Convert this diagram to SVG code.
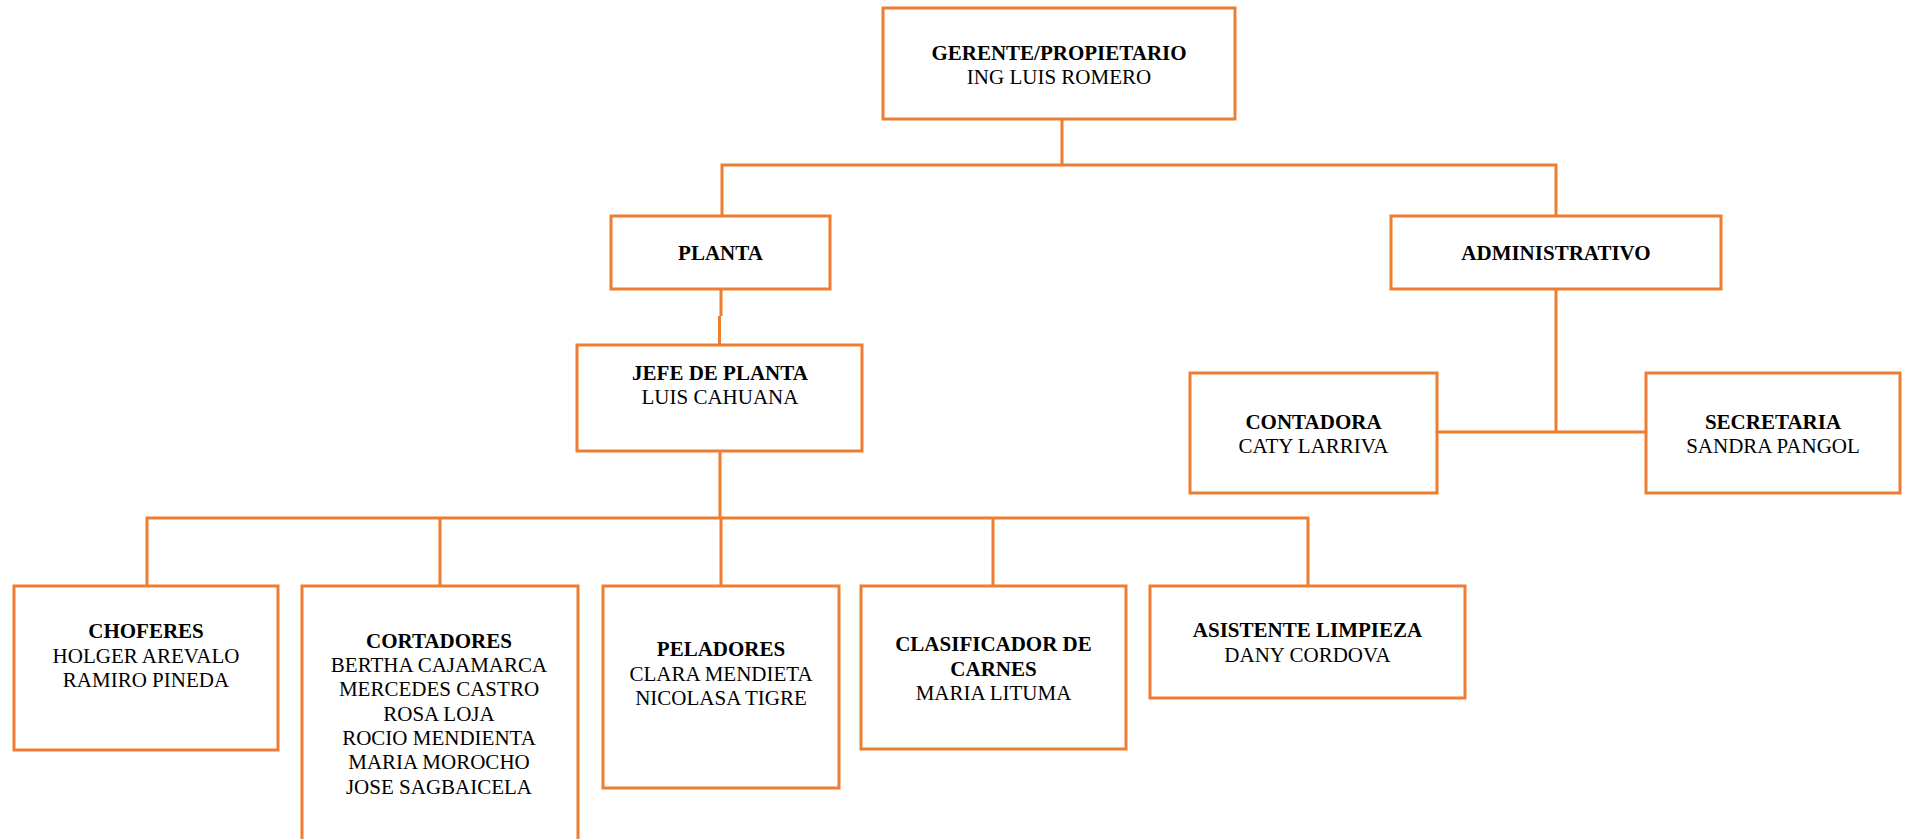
<svg xmlns="http://www.w3.org/2000/svg" width="1906" height="839" viewBox="0 0 1906 839">
<style>
.box{fill:#FFFFFF;stroke:#ED7D31;stroke-width:3}
.con{fill:none;stroke:#ED7D31;stroke-width:3}
text{font-family:"Liberation Serif","Times New Roman",serif;font-size:21px;fill:#000000;text-anchor:middle}
.b{font-weight:bold}
</style>
<rect width="1906" height="839" fill="#FFFFFF"/>
<g id="connectors">
<path class="con" d="M1062,119 V165 M722,215 V165 H1556 V215"/>
<path class="con" d="M721,289 V316 M719.5,316 V345"/>
<path class="con" d="M720,451 V518 M147,586 V518 H1308 V586 M440,518 V586 M721,518 V586 M993,518 V586"/>
<path class="con" d="M1556,289 V432 M1437,432 H1646"/>
</g>
<g id="gerente">
<rect class="box" x="883" y="8" width="352" height="111"/>
<text class="b" x="1059" y="60">GERENTE/PROPIETARIO</text>
<text x="1059" y="84">ING LUIS ROMERO</text>
</g>
<g id="planta">
<rect class="box" x="611" y="216" width="219" height="73"/>
<text class="b" x="720.5" y="260">PLANTA</text>
</g>
<g id="administrativo">
<rect class="box" x="1391" y="216" width="330" height="73"/>
<text class="b" x="1556" y="260">ADMINISTRATIVO</text>
</g>
<g id="jefe">
<rect class="box" x="577" y="345" width="285" height="106"/>
<text class="b" x="720" y="380">JEFE DE PLANTA</text>
<text x="720" y="404">LUIS CAHUANA</text>
</g>
<g id="contadora">
<rect class="box" x="1190" y="373" width="247" height="120"/>
<text class="b" x="1313.5" y="429">CONTADORA</text>
<text x="1313.5" y="453">CATY LARRIVA</text>
</g>
<g id="secretaria">
<rect class="box" x="1646" y="373" width="254" height="120"/>
<text class="b" x="1773" y="429">SECRETARIA</text>
<text x="1773" y="453">SANDRA PANGOL</text>
</g>
<g id="choferes">
<rect class="box" x="14" y="586" width="264" height="164"/>
<text class="b" x="146" y="638">CHOFERES</text>
<text x="146" y="662.5">HOLGER AREVALO</text>
<text x="146" y="687">RAMIRO PINEDA</text>
</g>
<g id="cortadores">
<rect class="box" x="302" y="586" width="276" height="270"/>
<text class="b" x="439" y="648">CORTADORES</text>
<text x="439" y="672">BERTHA CAJAMARCA</text>
<text x="439" y="696">MERCEDES CASTRO</text>
<text x="439" y="720.5">ROSA LOJA</text>
<text x="439" y="745">ROCIO MENDIENTA</text>
<text x="439" y="769">MARIA MOROCHO</text>
<text x="439" y="793.5">JOSE SAGBAICELA</text>
</g>
<g id="peladores">
<rect class="box" x="603" y="586" width="236" height="202"/>
<text class="b" x="721" y="656">PELADORES</text>
<text x="721" y="680.5">CLARA MENDIETA</text>
<text x="721" y="705">NICOLASA TIGRE</text>
</g>
<g id="clasificador">
<rect class="box" x="861" y="586" width="265" height="163"/>
<text class="b" x="993.5" y="651">CLASIFICADOR DE</text>
<text class="b" x="993.5" y="675.5">CARNES</text>
<text x="993.5" y="700">MARIA LITUMA</text>
</g>
<g id="asistente">
<rect class="box" x="1150" y="586" width="315" height="112"/>
<text class="b" x="1307.5" y="637">ASISTENTE LIMPIEZA</text>
<text x="1307.5" y="661.5">DANY CORDOVA</text>
</g>
</svg>
